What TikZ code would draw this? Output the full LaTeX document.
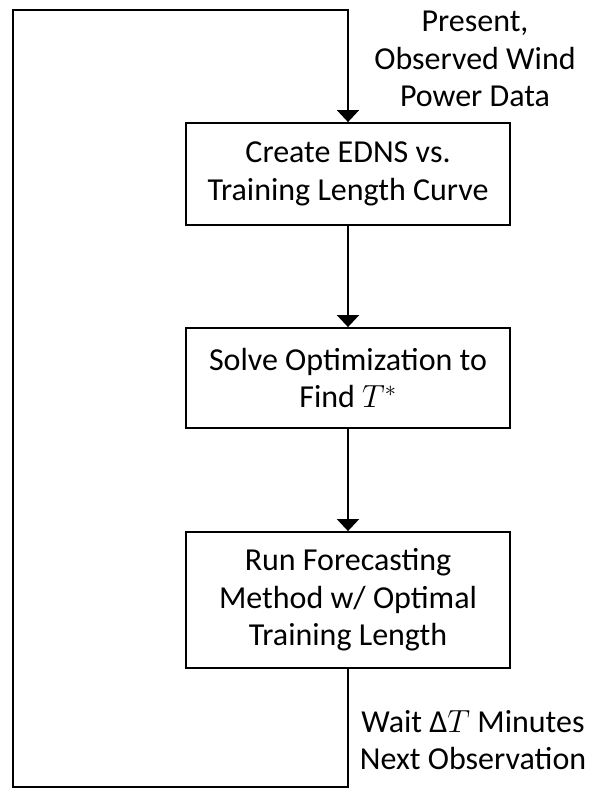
\RequirePackage{fix-cm}
\documentclass[tikz,border=0pt]{standalone}
\usepackage{fontspec}
\setmainfont{Carlito}
\usetikzlibrary{arrows.meta}

\tikzset{
  stagebox/.style={draw, line width=1.8pt, align=center, minimum width=324pt, inner sep=0pt},
  sidenote/.style={align=center, inner sep=0pt}
}

\begin{document}
\begin{tikzpicture}[x=1pt,y=-1pt,>={Triangle[width=22pt,length=12pt]},line width=1.8pt,
  font=\fontsize{32}{37.5}\selectfont]
  \useasboundingbox (0,0) rectangle (595,789);

  % Stage boxes
  \node[stagebox, minimum height=102pt] (curve) at (348,174) {Create EDNS vs.\\Training Length Curve};
  \node[stagebox, minimum height=100pt] (optim) at (348,378) {Solve Optimization to\\Find $T^{*}$};
  \node[stagebox, minimum height=136pt] (run) at (348,600) {Run Forecasting\\Method w/ Optimal\\Training Length};

  % Side notes
  \node[sidenote] (data) at (475,59) {Present,\\Observed Wind\\Power Data};
  \node[sidenote] (wait) at (473,740) {Wait Δ$T$ Minutes\\Next Observation};

  % Loop corners
  \coordinate (bl) at (13,787);
  \coordinate (tl) at (13,10);

  % Stage arrows
  \draw[->] (curve) -- (optim);
  \draw[->] (optim) -- (run);
  \draw[->] (run.south) |- (bl) -- (tl) -| (curve.north);
\end{tikzpicture}
\end{document}
